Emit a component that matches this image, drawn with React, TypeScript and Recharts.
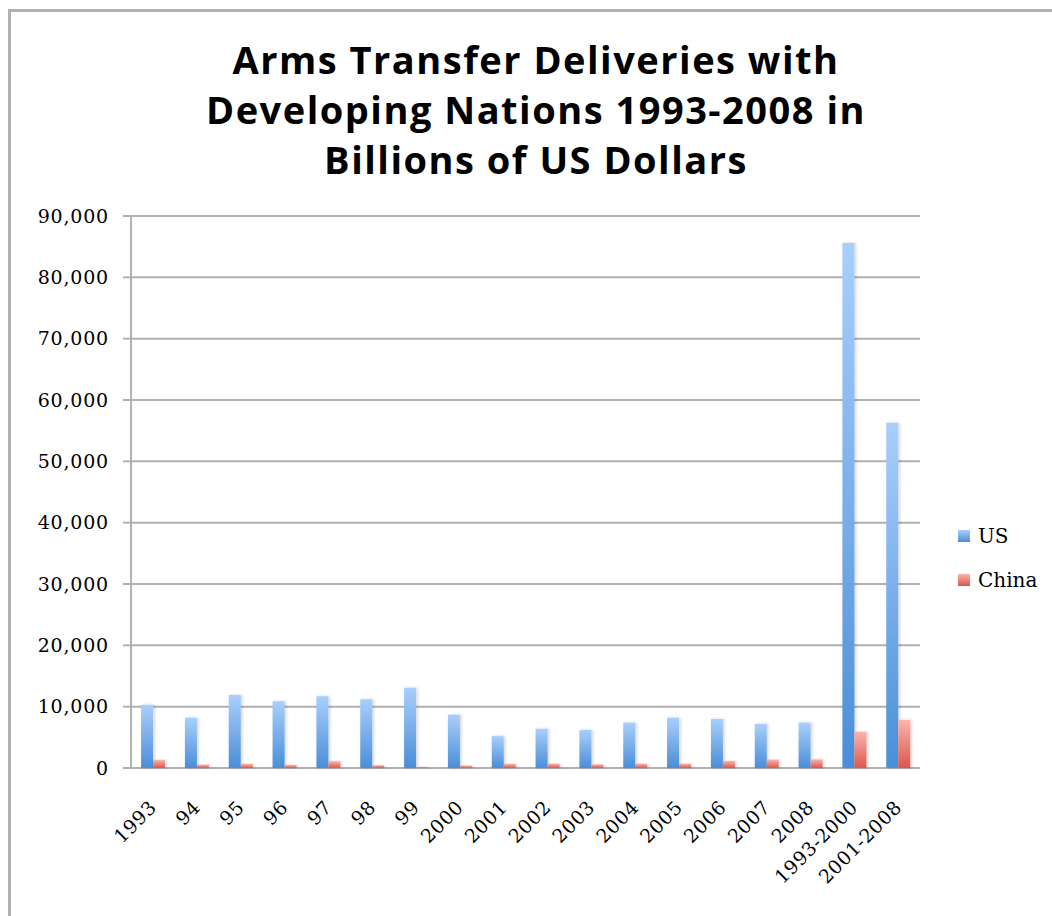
import { BarChart, Bar, XAxis, YAxis, CartesianGrid } from 'recharts';

const CATEGORIES = [
  '1993', '94', '95', '96', '97', '98', '99', '2000', '2001', '2002',
  '2003', '2004', '2005', '2006', '2007', '2008', '1993-2000', '2001-2008',
];

const US_VALUES = [
  10300, 8200, 11900, 10900, 11700, 11200, 13100, 8700, 5200, 6400,
  6200, 7400, 8200, 8000, 7200, 7400, 85600, 56300,
];

const CHINA_VALUES = [
  1300, 550, 650, 500, 1100, 450, 200, 400, 650, 700,
  600, 700, 700, 1150, 1370, 1400, 5900, 7850,
];

const Y_TICKS = [0, 10000, 20000, 30000, 40000, 50000, 60000, 70000, 80000, 90000];

const TITLE_LINES = [
  'Arms Transfer Deliveries with',
  'Developing Nations 1993-2008 in',
  'Billions of US Dollars',
];

const LEGEND_ITEMS = [
  { label: 'US', top: '#a9cffc', bottom: '#4a8ed8' },
  { label: 'China', top: '#fbb3ae', bottom: '#db574c' },
];

const data = CATEGORIES.map((name, i) => ({
  name,
  US: US_VALUES[i],
  China: CHINA_VALUES[i],
}));

// boundary ticks between categories, like the original spreadsheet chart
const BOUNDARY_TICKS = [...CATEGORIES.map((_, i) => i), CATEGORIES.length];

const GRID = '#b1b1b1';
const SERIF = '"DejaVu Serif", serif';

function RotatedTick(props: any) {
  const { x, y, payload } = props;
  return (
    <g transform={`translate(${x},${y + 28}) rotate(-45)`}>
      <text
        x={0}
        y={0}
        dy="0.35em"
        textAnchor="end"
        fill="#000"
        fontFamily={SERIF}
        fontSize={19}
        letterSpacing={0.5}
      >
        {payload.value}
      </text>
    </g>
  );
}

function LegendBox() {
  return (
    <div
      style={{
        position: 'absolute',
        left: 958,
        top: 514,
        fontFamily: SERIF,
        fontSize: 20,
        color: '#000',
      }}
    >
      {LEGEND_ITEMS.map((it) => (
        <div key={it.label} style={{ display: 'flex', alignItems: 'center', height: 44 }}>
          <div
            style={{
              width: 12,
              height: 12,
              marginRight: 8,
              background: `linear-gradient(${it.top}, ${it.bottom})`,
            }}
          />
          <span>{it.label}</span>
        </div>
      ))}
    </div>
  );
}

export default function App() {
  return (
    <div
      style={{
        position: 'fixed',
        top: 0,
        left: 0,
        width: 1052,
        height: 916,
        background: '#fff',
        overflow: 'hidden',
      }}
    >
      <div
        style={{
          position: 'absolute',
          left: 8,
          top: 9,
          width: 1100,
          height: 1000,
          borderLeft: `3px solid ${GRID}`,
          borderTop: `3px solid ${GRID}`,
        }}
      />
      <div
        style={{
          position: 'absolute',
          top: 34,
          left: 0,
          width: 1072,
          textAlign: 'center',
          fontFamily: '"Open Sans", sans-serif',
          fontWeight: 700,
          fontSize: 38,
          letterSpacing: 1.5,
          lineHeight: '50px',
          color: '#000',
        }}
      >
        {TITLE_LINES.map((l) => (
          <div key={l}>{l}</div>
        ))}
      </div>
      <div style={{ position: 'absolute', top: 0, left: 0 }}>
        <BarChart
          width={1052}
          height={916}
          data={data}
          margin={{ top: 216, right: 132, bottom: 0, left: 0 }}
          barCategoryGap="23%"
          barGap={0}
        >
          <defs>
            <linearGradient id="usGrad" x1="0" y1="0" x2="0" y2="1">
              <stop offset="0%" stopColor={LEGEND_ITEMS[0].top} />
              <stop offset="100%" stopColor={LEGEND_ITEMS[0].bottom} />
            </linearGradient>
            <linearGradient id="cnGrad" x1="0" y1="0" x2="0" y2="1">
              <stop offset="0%" stopColor={LEGEND_ITEMS[1].top} />
              <stop offset="100%" stopColor={LEGEND_ITEMS[1].bottom} />
            </linearGradient>
            <filter id="barShadow" x="-30%" y="-5%" width="160%" height="110%">
              <feDropShadow dx="1.5" dy="0" stdDeviation="1.5" floodColor="#000" floodOpacity="0.18" />
            </filter>
          </defs>
          <CartesianGrid vertical={false} stroke={GRID} strokeWidth={2} />
          <XAxis
            xAxisId="bounds"
            type="number"
            domain={[0, CATEGORIES.length]}
            ticks={BOUNDARY_TICKS}
            height={0}
            tick={false}
            tickSize={8}
            axisLine={{ stroke: GRID, strokeWidth: 2 }}
            tickLine={{ stroke: GRID, strokeWidth: 2 }}
            allowDataOverflow
          />
          <XAxis
            dataKey="name"
            height={148}
            interval={0}
            axisLine={false}
            tickLine={false}
            tick={<RotatedTick />}
          />
          <YAxis
            width={131}
            domain={[0, 90000]}
            ticks={Y_TICKS}
            interval={0}
            tickSize={8}
            tickMargin={14}
            axisLine={{ stroke: GRID, strokeWidth: 2 }}
            tickLine={{ stroke: GRID, strokeWidth: 2 }}
            tickFormatter={(v: number) => v.toLocaleString('en-US')}
            tick={{ fill: '#000', fontFamily: SERIF, fontSize: 19, letterSpacing: 0.8 }}
          />
          <Bar dataKey="US" fill="url(#usGrad)" filter="url(#barShadow)" isAnimationActive={false} />
          <Bar dataKey="China" fill="url(#cnGrad)" filter="url(#barShadow)" isAnimationActive={false} />
        </BarChart>
      </div>
      <LegendBox />
    </div>
  );
}
